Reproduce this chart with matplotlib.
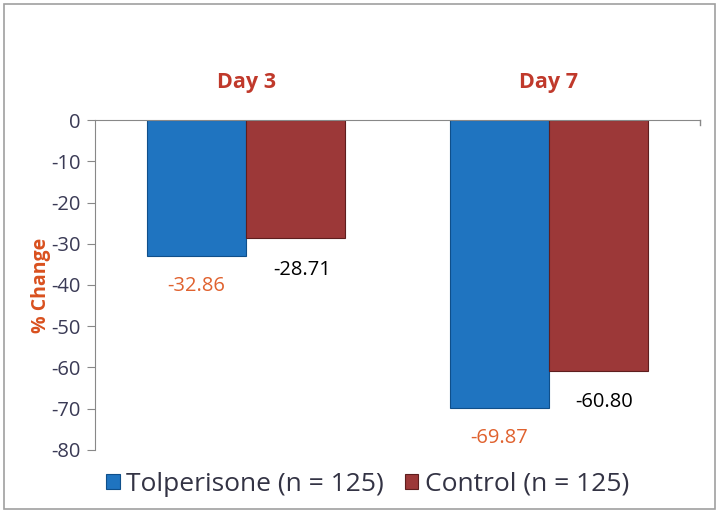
import numpy as np
import matplotlib
matplotlib.use("Agg")
import matplotlib.pyplot as plt
from matplotlib.patches import Rectangle

plt.rcParams['font.family'] = ['Open Sans', 'DejaVu Sans']

days = ["Day 3", "Day 7"]
tolperisone = [-32.86, -69.87]
control = [-28.71, -60.80]
series_names = ["Tolperisone (n = 125)", "Control (n = 125)"]
yticks = [0, -10, -20, -30, -40, -50, -60, -70, -80]

blue = "#1f74c0"
red = "#9c3838"
orange = "#e0622f"
tick_col = "#3a3a55"

fig = plt.figure(figsize=(7.24, 5.2), dpi=100)
fig.patches.append(Rectangle((0.006, 0.022), 0.982, 0.97, transform=fig.transFigure,
                             fill=False, edgecolor="#a0a0a0", linewidth=1.2))
ax = fig.add_axes([0.131, 0.135, 0.836, 0.634])

x = np.arange(len(days))
w = 0.327
b1 = ax.bar(x - w / 2, tolperisone, w, color=blue, edgecolor="#0f4f8a", linewidth=0.8,
            label=series_names[0])
b2 = ax.bar(x + w / 2, control, w, color=red, edgecolor="#5e1e1e", linewidth=0.8,
            label=series_names[1])

ax.set_xlim(-0.5, 1.5)
ax.set_ylim(-80, 0)
ax.set_yticks(yticks)
ax.set_yticklabels([str(t) for t in yticks], fontsize=14.5, color=tick_col)
ax.tick_params(axis="y", direction="out", length=6, color="#888888", pad=4)
ax.set_xticks([])
for s in ["right", "bottom"]:
    ax.spines[s].set_visible(False)
ax.spines["left"].set_color("#888888")
ax.spines["top"].set_color("#888888")
ax.plot([1.5, 1.5], [0, -1.3], color="#888888", lw=1, clip_on=False)

for i, d in enumerate(days):
    ax.text(x[i], 9.2, d, ha="center", va="center", fontsize=15.5, fontweight="bold",
            color="#c0392b")

for i in range(len(days)):
    ax.text(x[i] - w / 2, tolperisone[i] - 7.3, f"{tolperisone[i]:.2f}", ha="center",
            va="center", fontsize=14.5, color=orange)
    ax.text(x[i] + w / 2 + 0.02, control[i] - 7.6, f"{control[i]:.2f}", ha="center",
            va="center", fontsize=14.5, color="black")

ax.set_ylabel("% Change", fontsize=14, fontweight="bold", color="#d9501e", labelpad=0)

ax.legend(loc="upper left", bbox_to_anchor=(-0.02, 0.005), ncol=2, frameon=False,
          fontsize=19, handlelength=0.5, handleheight=0.5, handletextpad=0.25,
          columnspacing=0.8, labelcolor="#333344")

fig.savefig("out.png", dpi=100)
